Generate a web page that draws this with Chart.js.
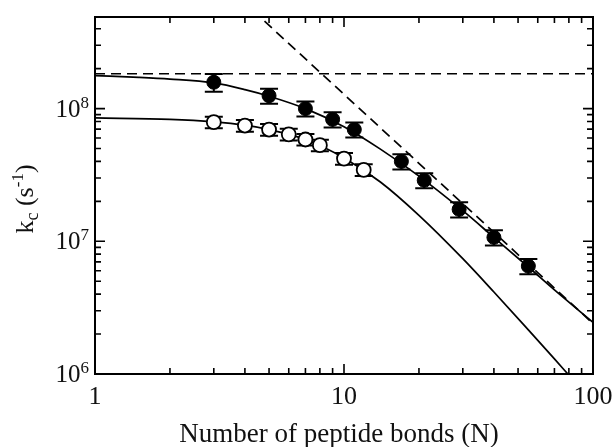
<!DOCTYPE html>
<html lang="en">
<head>
<meta charset="UTF-8">
<title>kc vs peptide bonds</title>
<script src="https://cdn.jsdelivr.net/npm/chart.js"></script>
<style>
body {margin:0; background:#fff}
</style>
</head>
<body>
<canvas id="myChart" width="612" height="447"></canvas>
<script>
// filled circles (with error bars)
var filledN = [3, 5, 7, 9, 11, 17, 21, 29, 40, 55];
var filledK = [1.58e8, 1.25e8, 1.0e8, 8.3e7, 6.95e7, 4.0e7, 2.88e7, 1.74e7, 1.07e7, 6.5e6];
var filledErr = [2.4e7, 1.6e7, 1.3e7, 1.1e7, 0.9e7, 0.52e7, 0.37e7, 0.23e7, 1.4e6, 0.85e6];

// open circles
var openN = [3, 4, 5, 6, 7, 8, 10, 12];
var openK = [7.9e7, 7.45e7, 6.95e7, 6.4e7, 5.85e7, 5.3e7, 4.2e7, 3.45e7];
var openErr = [7.9e6, 7.5e6, 7.0e6, 6.4e6, 5.9e6, 5.3e6, 4.2e6, 3.5e6];

// solid fit curves
var upperN = [1, 1.5, 2, 3, 4, 5, 7, 10, 14, 20, 30, 40, 55, 70, 100];
var upperK = [1.77e8, 1.72e8, 1.67e8, 1.56e8, 1.39e8, 1.24e8, 1.0e8, 7.3e7, 4.95e7, 3.1e7, 1.7e7, 1.07e7, 6.4e6, 4.3e6, 2.45e6];
var lowerN = [1, 2, 3, 4, 5, 7, 10, 14, 20, 30, 40, 55, 70, 80];
var lowerK = [8.5e7, 8.3e7, 7.95e7, 7.5e7, 6.95e7, 5.85e7, 4.25e7, 2.8e7, 1.57e7, 7.4e6, 4.15e6, 2.15e6, 1.3e6, 9.8e5];

// dashed limits
var plateauN = [1, 100];
var plateauK = [1.83e8, 1.83e8];
var slopeN = [4.3, 100];
var slopeK = [5.5e8, 2.4e6];

// axes
var xMajor = [1, 10, 100];
var xLabels = ['1', '10', '100'];
var xMinor = [2, 3, 4, 5, 6, 7, 8, 9, 20, 30, 40, 50, 60, 70, 80, 90];
var yMajor = [1e6, 1e7, 1e8];
var yExp = ['6', '7', '8'];
var yMinor = [2e6, 3e6, 4e6, 5e6, 6e6, 7e6, 8e6, 9e6, 2e7, 3e7, 4e7, 5e7, 6e7, 7e7, 8e7, 9e7, 2e8, 3e8, 4e8];

function pts(xs, ys) {
  return xs.map(function (v, i) { return {x: v, y: ys[i]}; });
}

var FONT = '"Liberation Serif", "Times New Roman", serif';

const errorBars = {
  id: 'errorBars',
  beforeDatasetDraw(chart, args) {
    var ds = chart.data.datasets[args.index];
    if (!ds.errors) return;
    var ctx = chart.ctx, xs = chart.scales.x, ys = chart.scales.y;
    ctx.save();
    ctx.strokeStyle = '#000';
    ctx.lineWidth = 2;
    ds.data.forEach(function (p, i) {
      var px = xs.getPixelForValue(p.x);
      var top = ys.getPixelForValue(p.y + ds.errors[i]);
      var bot = ys.getPixelForValue(p.y - ds.errors[i]);
      ctx.beginPath();
      ctx.moveTo(px, top); ctx.lineTo(px, bot);
      ctx.moveTo(px - 9, top); ctx.lineTo(px + 9, top);
      ctx.moveTo(px - 9, bot); ctx.lineTo(px + 9, bot);
      ctx.stroke();
    });
    ctx.restore();
  }
};

const frame = {
  id: 'frame',
  afterDraw(chart) {
    var ctx = chart.ctx, a = chart.chartArea, xs = chart.scales.x, ys = chart.scales.y;
    ctx.save();
    ctx.strokeStyle = '#000';
    ctx.lineWidth = 2;
    ctx.strokeRect(a.left, a.top, a.right - a.left, a.bottom - a.top);

    // inward ticks on all four sides
    ctx.lineWidth = 1.6;
    ctx.beginPath();
    function tx(v, len) {
      var px = xs.getPixelForValue(v);
      ctx.moveTo(px, a.bottom); ctx.lineTo(px, a.bottom - len);
      ctx.moveTo(px, a.top); ctx.lineTo(px, a.top + len);
    }
    function ty(v, len) {
      var py = ys.getPixelForValue(v);
      ctx.moveTo(a.left, py); ctx.lineTo(a.left + len, py);
      ctx.moveTo(a.right, py); ctx.lineTo(a.right - len, py);
    }
    xMajor.forEach(function (v) { tx(v, 10); });
    xMinor.forEach(function (v) { tx(v, 6); });
    yMajor.forEach(function (v) { ty(v, 10); });
    yMinor.forEach(function (v) { ty(v, 6); });
    ctx.stroke();

    ctx.fillStyle = '#111';
    // x tick labels
    ctx.font = '26px ' + FONT;
    ctx.textAlign = 'center';
    ctx.textBaseline = 'alphabetic';
    xMajor.forEach(function (v, i) {
      ctx.fillText(xLabels[i], xs.getPixelForValue(v), 404);
    });

    // y tick labels 10^n
    ctx.textAlign = 'right';
    yMajor.forEach(function (v, i) {
      var py = ys.getPixelForValue(v);
      ctx.font = '17px ' + FONT;
      var w = ctx.measureText(yExp[i]).width;
      ctx.fillText(yExp[i], 89, py - 1);
      ctx.font = '25px ' + FONT;
      ctx.fillText('10', 89 - w, py + 8);
    });

    // x title
    ctx.font = '27px ' + FONT;
    ctx.textAlign = 'center';
    ctx.fillText('Number of peptide bonds (N)', 339, 442);

    // y title: k_c (s^-1)
    var parts = [['k', 26, 0], ['c', 18, 5], [' (s', 26, 0], ['-1', 17, -10], [')', 26, 0]];
    ctx.translate(33, 199);
    ctx.rotate(-Math.PI / 2);
    ctx.textAlign = 'left';
    var total = 0;
    parts.forEach(function (p) { ctx.font = p[1] + 'px ' + FONT; total += ctx.measureText(p[0]).width; });
    var cx = -total / 2;
    parts.forEach(function (p) {
      ctx.font = p[1] + 'px ' + FONT;
      ctx.fillText(p[0], cx, p[2]);
      cx += ctx.measureText(p[0]).width;
    });
    ctx.restore();
  }
};

const ctx = document.getElementById('myChart');
new Chart(ctx, {
  type: 'scatter',
  data: {
    datasets: [
      {
        label: 'filled',
        data: pts(filledN, filledK),
        errors: filledErr,
        pointRadius: 7,
        pointBackgroundColor: '#000',
        pointBorderColor: '#000',
        pointBorderWidth: 1,
        showLine: false
      },
      {
        label: 'open',
        data: pts(openN, openK),
        errors: openErr,
        pointRadius: 7,
        pointBackgroundColor: '#fff',
        pointBorderColor: '#000',
        pointBorderWidth: 1.8,
        showLine: false
      },
      {
        label: 'upper fit',
        data: pts(upperN, upperK),
        showLine: true,
        pointRadius: 0,
        borderColor: '#000',
        borderWidth: 1.7,
        cubicInterpolationMode: 'monotone'
      },
      {
        label: 'lower fit',
        data: pts(lowerN, lowerK),
        showLine: true,
        pointRadius: 0,
        borderColor: '#000',
        borderWidth: 1.7,
        cubicInterpolationMode: 'monotone'
      },
      {
        label: 'plateau',
        data: pts(plateauN, plateauK),
        showLine: true,
        pointRadius: 0,
        borderColor: '#000',
        borderWidth: 1.7,
        borderDash: [10, 6]
      },
      {
        label: 'slope',
        data: pts(slopeN, slopeK),
        showLine: true,
        pointRadius: 0,
        borderColor: '#000',
        borderWidth: 1.7,
        borderDash: [10, 6]
      }
    ]
  },
  options: {
    responsive: false,
    animation: false,
    events: [],
    layout: {padding: {left: 95, right: 19, top: 17, bottom: 73}},
    plugins: {legend: {display: false}, tooltip: {enabled: false}},
    scales: {
      x: {type: 'logarithmic', min: 1, max: 100, display: false},
      y: {type: 'logarithmic', min: 1e6, max: 4.9e8, display: false}
    }
  },
  plugins: [errorBars, frame]
});
</script>
</body>
</html>
